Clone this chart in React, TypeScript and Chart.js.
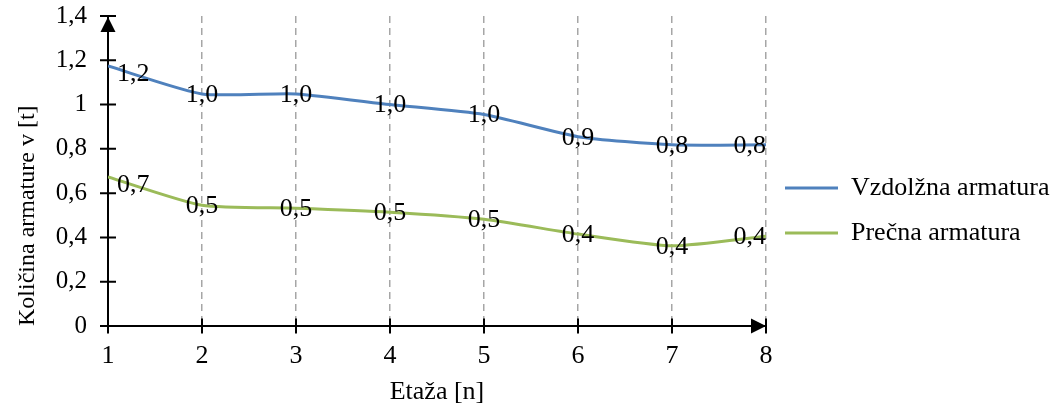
import React, { useEffect, useRef } from "react";
import { Chart, registerables } from "chart.js";

Chart.register(...registerables);

const floors = [1, 2, 3, 4, 5, 6, 7, 8];
const longitudinal = [1.174, 1.048, 1.048, 1.0, 0.955, 0.855, 0.818, 0.818];
const transverse = [0.673, 0.545, 0.532, 0.514, 0.482, 0.415, 0.362, 0.405];
const seriesNames = ["Vzdolžna armatura", "Prečna armatura"];
const seriesColors = ["#4F81BD", "#9BBB59"];
const yTickLabels = ["0", "0,2", "0,4", "0,6", "0,8", "1", "1,2", "1,4"];
const xTitle = "Etaža [n]";
const yTitle = "Količina armature v [t]";

const FONT = "'Liberation Serif', 'Times New Roman', serif";

const fmt = (v: number) => v.toFixed(1).replace(".", ",");

const axisPlugin = {
  id: "axisPlugin",
  beforeDatasetsDraw(chart: any) {
    const { ctx, scales } = chart;
    const xs = scales.x;
    const ys = scales.y;
    const x0 = xs.getPixelForValue(floors[0]);
    const x1 = xs.getPixelForValue(floors[floors.length - 1]);
    const y0 = ys.getPixelForValue(0);
    const y1 = ys.getPixelForValue(1.4);
    ctx.save();
    ctx.strokeStyle = "#000";
    ctx.fillStyle = "#000";
    ctx.lineWidth = 2;
    ctx.beginPath();
    ctx.moveTo(x0, y1);
    ctx.lineTo(x0, y0);
    ctx.moveTo(x0, y0);
    ctx.lineTo(x1, y0);
    yTickLabels.forEach((_, i) => {
      const p = ys.getPixelForValue(i * 0.2);
      ctx.moveTo(x0 - 8, p);
      ctx.lineTo(x0 + 8, p);
    });
    floors.forEach((f) => {
      const p = xs.getPixelForValue(f);
      ctx.moveTo(p, y0 - 7.5);
      ctx.lineTo(p, y0 + 7.5);
    });
    ctx.stroke();
    // arrows
    ctx.beginPath();
    ctx.moveTo(x0, y1 + 1);
    ctx.lineTo(x0 - 7.5, y1 + 16);
    ctx.lineTo(x0 + 7.5, y1 + 16);
    ctx.closePath();
    ctx.fill();
    ctx.beginPath();
    ctx.moveTo(x1, y0);
    ctx.lineTo(x1 - 15, y0 - 7.5);
    ctx.lineTo(x1 - 15, y0 + 7.5);
    ctx.closePath();
    ctx.fill();
    ctx.restore();
  },
};

const labelPlugin = {
  id: "labelPlugin",
  afterDatasetsDraw(chart: any) {
    const { ctx } = chart;
    ctx.save();
    ctx.font = `26px ${FONT}`;
    ctx.fillStyle = "#000";
    ctx.textBaseline = "middle";
    chart.data.datasets.forEach((ds: any, di: number) => {
      const meta = chart.getDatasetMeta(di);
      meta.data.forEach((pt: any, i: number) => {
        const txt = fmt(ds.data[i].y);
        let x = pt.x;
        let y = pt.y;
        if (i === 0) {
          ctx.textAlign = "left";
          x += 9;
          y += 8;
        } else if (i === meta.data.length - 1) {
          ctx.textAlign = "right";
          y += 1;
        } else {
          ctx.textAlign = "center";
          y += 1;
        }
        ctx.fillText(txt, x, y);
      });
    });
    ctx.restore();
  },
};

export default function App() {
  const ref = useRef<HTMLCanvasElement | null>(null);
  useEffect(() => {
    if (!ref.current) return;
    const chart = new Chart(ref.current, {
      type: "line",
      data: {
        datasets: [longitudinal, transverse].map((vals, si) => ({
          label: seriesNames[si],
          data: floors.map((f, i) => ({ x: f, y: vals[i] })),
          borderColor: seriesColors[si],
          backgroundColor: seriesColors[si],
          borderWidth: 3,
          pointRadius: 0,
          tension: 0.2,
          fill: false,
        })),
      },
      options: {
        animation: false,
        responsive: false,
        devicePixelRatio: 1,
        layout: { padding: { left: 0, top: 16, right: 0, bottom: 7 } },
        plugins: {
          tooltip: { enabled: false },
          legend: {
            position: "right",
            align: "center",
            maxWidth: 287,
            labels: {
              usePointStyle: true,
              pointStyle: "line",
              pointStyleWidth: 53,
              padding: 19,
              color: "#000",
              font: { family: FONT, size: 26 },
            },
          },
        },
        scales: {
          x: {
            type: "linear",
            min: 1,
            max: 8,
            afterFit: (s: any) => {
              s.height = 79;
            },
            ticks: {
              stepSize: 1,
              padding: 15,
              color: "#000",
              font: { family: FONT, size: 26 },
            },
            grid: {
              drawTicks: false,
              lineWidth: 1.5,
              color: (c: any) =>
                c.tick && c.tick.value === 1 ? "rgba(0,0,0,0)" : "#a6a6a6",
            },
            border: { display: false, dash: [7, 5] },
            title: {
              display: true,
              text: xTitle,
              color: "#000",
              font: { family: FONT, size: 26, lineHeight: 1 },
              padding: 0,
            },
          },
          y: {
            min: 0,
            max: 1.4,
            afterFit: (s: any) => {
              s.width = 108;
              s.paddingTop = 0;
              s.paddingBottom = 0;
            },
            ticks: {
              stepSize: 0.2,
              padding: 21,
              color: "#000",
              font: { family: FONT, size: 25 },
              callback: (v: any) => yTickLabels[Math.round(Number(v) / 0.2)],
            },
            grid: { display: false, drawTicks: false },
            border: { display: false },
            title: {
              display: true,
              text: yTitle,
              align: "start",
              color: "#000",
              font: { family: FONT, size: 24 },
              padding: { top: 13.6, bottom: 0 },
            },
          },
        },
      },
      plugins: [axisPlugin, labelPlugin],
    } as any);
    return () => chart.destroy();
  }, []);
  return (
    <div style={{ position: "fixed", left: 0, top: 0, width: 1053, height: 412, background: "#fff" }}>
      <canvas ref={ref} width={1053} height={412} />
    </div>
  );
}
